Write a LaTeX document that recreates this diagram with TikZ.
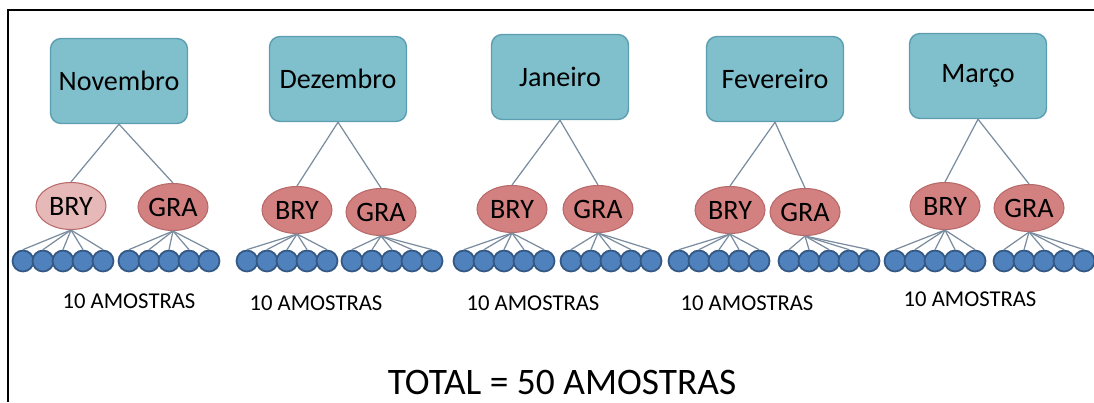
\documentclass[tikz,border=0pt]{standalone}
\usepackage{fontspec}
\setmainfont{Carlito}
\usepackage{tikz}
\usetikzlibrary{shapes.geometric}
\usepackage{xcolor}
\definecolor{boxfill}{RGB}{128,191,204}
\definecolor{boxline}{RGB}{92,158,176}
\definecolor{grafill}{RGB}{210,128,128}
\definecolor{bryfill}{RGB}{231,184,184}
\definecolor{siteline}{RGB}{184,106,106}
\definecolor{samplefill}{RGB}{79,129,189}
\definecolor{sampleline}{RGB}{52,88,132}
\definecolor{linkcol}{RGB}{122,140,158}

\begin{document}
\begin{tikzpicture}[x=0.02cm,y=-0.02cm]
  \tikzset{month/.style = {shape=rectangle,rounded corners=6pt,draw=boxline,fill=boxfill,line width=0.8pt,minimum width=2.74cm,minimum height=1.7cm,font=\fontsize{16}{19}\selectfont}}
  \tikzset{site/.style = {shape=ellipse,draw=siteline,fill=grafill,line width=0.6pt,minimum width=1.4cm,minimum height=0.94cm,inner sep=0pt,font=\fontsize{16}{19}\selectfont}}
  \tikzset{palesite/.style = {site,fill=bryfill}}
  \tikzset{sample/.style = {shape=circle,draw=sampleline,fill=samplefill,line width=1pt,minimum size=0.42cm,inner sep=0pt}}
  \tikzset{link/.style = {draw=linkcol,line width=0.7pt}}
  \tikzset{count/.style = {font=\fontsize{12.9}{15}\selectfont}}

  \useasboundingbox (0,0) rectangle (1094,402);
  \draw[line width=1.7pt] (8,402) -- (8,10) -- (1094,10);

	\node[month] (NOV) at (119,81) {Novembro};
	\node[month] (DEZ) at (338,79) {Dezembro};
	\node[month] (JAN) at (560,77) {Janeiro};
	\node[month] (FEV) at (775,79) {Fevereiro};
	\node[month] (MAR) at (978,76) {Março};

	\node[palesite] (NB) at (71,206) {BRY};
	\node[site] (NG) at (173,207) {GRA};
	\node[site] (DB) at (297,210) {BRY};
	\node[site] (DG) at (381,212) {GRA};
	\node[site] (JB) at (512,209) {BRY};
	\node[site] (JG) at (598,209) {GRA};
	\node[site] (FB) at (730,210) {BRY};
	\node[site] (FG) at (805,212) {GRA};
	\node[site] (MB) at (945,206) {BRY};
	\node[site] (MG) at (1029,208) {GRA};

    \foreach \from/\to in {NOV/NB,NOV/NG,DEZ/DB,DEZ/DG,JAN/JB,JAN/JG,FEV/FB,FEV/FG,MAR/MB,MAR/MG}
    \path[link] (\from.south) edge (\to.north);

    % five samples under each site
    \foreach \s/\x in {NB/12,NG/118,DB/236,DG/341,JB/453,JG/560,FB/668,FG/778,MB/884,MG/993}
    \foreach \i in {1,...,5} {
      \node[sample] (\s\i) at ({\x+11+20*(\i-1)},261) {};
      \path[link] (\s.south) edge (\s\i.north);
    }

	\node[count] (CN) at (129,301) {10 AMOSTRAS};
	\node[count] (CD) at (316,303) {10 AMOSTRAS};
	\node[count] (CJ) at (533,303) {10 AMOSTRAS};
	\node[count] (CF) at (747,303) {10 AMOSTRAS};
	\node[count] (CM) at (970,299) {10 AMOSTRAS};

	\node[font=\fontsize{21.3}{25}\selectfont] (TOT) at (562,382) {TOTAL = 50 AMOSTRAS};

\end{tikzpicture}
\end{document}
